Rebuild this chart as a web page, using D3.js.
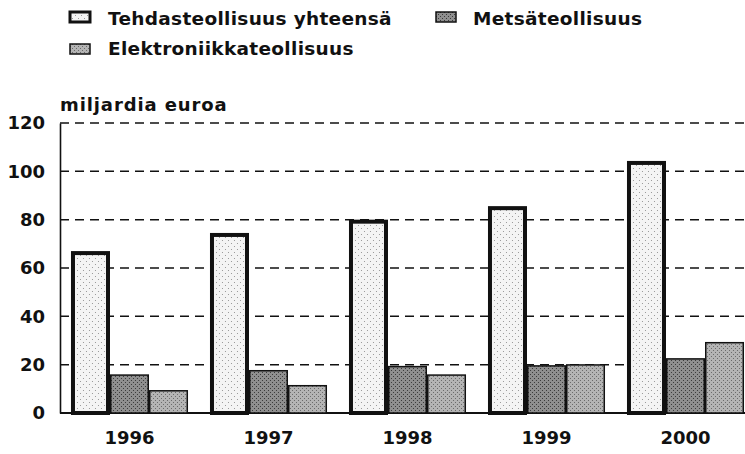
<!DOCTYPE html>
<html><head><meta charset="utf-8">
<script src="https://cdn.jsdelivr.net/npm/d3@7"></script>
<style>body{margin:0;background:#fff}svg{display:block}text{font-family:"DejaVu Sans","Liberation Sans",Arial,sans-serif;font-weight:bold;fill:#111}</style>
</head><body><svg id="c" width="745" height="454"></svg>
<script>
const years = ["1996","1997","1998","1999","2000"];
const seriesNames = ["Tehdasteollisuus yhteensä","Metsäteollisuus","Elektroniikkateollisuus"];
const tehdas = [67, 74.5, 80, 85.6, 104.3];
const metsa = [16, 17.8, 19.5, 19.8, 22.7];
const elektro = [9.5, 11.6, 16, 20.2, 29.4];
const yTicks = [0,20,40,60,80,100,120];
const yTitle = "miljardia euroa";

const svg = d3.select("#c");
const defs = svg.append("defs");
function stipple(id, bg, dot, step){
  const p = defs.append("pattern").attr("id",id).attr("patternUnits","userSpaceOnUse").attr("width",step*2).attr("height",step*2);
  p.append("rect").attr("width",step*2).attr("height",step*2).attr("fill",bg);
  p.append("rect").attr("x",0).attr("y",0).attr("width",1).attr("height",1).attr("fill",dot);
  p.append("rect").attr("x",step).attr("y",step).attr("width",1).attr("height",1).attr("fill",dot);
}
stipple("pT","#f4f4f4","#9a9a9a",3);
stipple("pM","#8f8f8f","#3a3a3a",2);
stipple("pE","#b4b4b4","#6a6a6a",2);
const fills = ["url(#pT)","url(#pM)","url(#pE)"];

const x0 = d3.scaleBand().domain(years).range([60,755]).paddingInner(0.158).paddingOuter(0.079);
const x1 = d3.scaleBand().domain([0,1,2]).range([0,x0.bandwidth()]);
const y = d3.scaleLinear().domain([0,120]).range([413,123]);

// grid
svg.append("g").selectAll("line").data(yTicks.filter(d=>d>0)).join("line")
  .attr("x1",60).attr("x2",745).attr("y1",d=>y(d)).attr("y2",d=>y(d))
  .attr("stroke","#111").attr("stroke-width",1.5).attr("stroke-dasharray","9,6");

// y axis
const ya = svg.append("g").attr("transform","translate(60,0)").call(d3.axisLeft(y).tickValues(yTicks).tickSize(0).tickPadding(15));
ya.select(".domain").attr("stroke","#111").attr("stroke-width",1.6);
ya.selectAll("text").style("font-size","18px").attr("fill","#111");

// baseline
svg.append("line").attr("x1",60).attr("x2",745).attr("y1",y(0)).attr("y2",y(0)).attr("stroke","#111").attr("stroke-width",1.8);

const data = years.map((yr,i)=>({yr, vals:[tehdas[i],metsa[i],elektro[i]]}));
const g = svg.append("g").selectAll("g").data(data).join("g").attr("transform",d=>`translate(${x0(d.yr)},0)`);
g.selectAll("rect").data(d=>d.vals.map((v,k)=>({v,k}))).join("rect")
  .attr("x",d=>x1(d.k)+(d.k===0?2:0.75)).attr("width",d=>x1.bandwidth()-(d.k===0?4:1.5))
  .attr("y",d=>y(d.v)+(d.k===0?2:0.75)).attr("height",d=>y(0)-y(d.v)-(d.k===0?2:0.75))
  .attr("fill",d=>fills[d.k]).attr("stroke","#111").attr("stroke-width",d=>d.k===0?4:1.5);

// x labels
const xa = svg.append("g").attr("transform",`translate(0,${y(0)})`).call(d3.axisBottom(x0).tickSize(0).tickPadding(18));
xa.select(".domain").remove();
xa.selectAll("text").style("font-size","18px").attr("fill","#111");

// y title
svg.append("text").attr("x",60).attr("y",111).style("font-size","18px").style("letter-spacing","0.9px").text(yTitle);

// legend
const leg = [{x:70,y:12,tx:108,ty:25,k:0},{x:436,y:12,tx:473,ty:25,k:1},{x:70,y:44,tx:108,ty:55,k:2}];
leg.forEach(l=>{
  const w=20,h=10;
  svg.append("rect").attr("x",l.x).attr("y",l.y).attr("width",w).attr("height",h)
    .attr("fill",fills[l.k]).attr("stroke","#111").attr("stroke-width",l.k===0?3:1.5);
  svg.append("text").attr("x",l.tx).attr("y",l.ty).style("font-size","18.5px").style("letter-spacing","0.3px").text(seriesNames[l.k]);
});
</script></body></html>
